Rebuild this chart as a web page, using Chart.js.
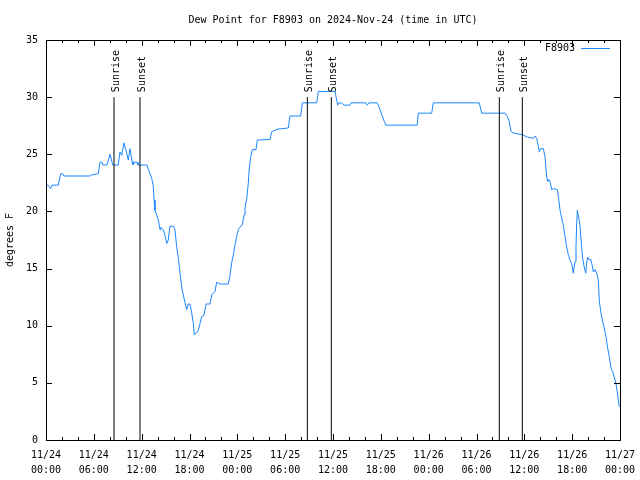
<!DOCTYPE html>
<html>
<head>
<meta charset="utf-8">
<script src="https://cdn.jsdelivr.net/npm/chart.js@4"></script>
<style>
html,body{margin:0;padding:0;background:#fff;}
#wrap{width:640px;height:480px;position:relative;}
</style>
</head>
<body>
<div id="wrap"><canvas id="c" width="640" height="480"></canvas></div>
<script>
// Hours since 2024-11-24 00:00 UTC
const hours = [0.0,0.25,0.59,0.75,1.54,1.84,2.07,2.26,5.52,5.73,6.56,6.77,7.02,7.15,7.65,8.03,8.37,9.07,9.28,9.5,9.78,10.12,10.32,10.54,10.79,10.91,11.16,11.42,11.54,12.67,12.83,13.26,13.46,13.55,13.67,13.89,14.09,14.3,14.39,14.71,14.93,15.14,15.34,15.55,15.97,16.18,16.39,16.6,16.81,17.02,17.22,17.44,17.65,17.85,18.06,18.28,18.48,18.6,18.9,19.1,19.32,19.53,19.82,20.07,20.57,20.79,21.2,21.41,21.83,22.87,23.08,23.29,23.5,23.71,23.92,24.12,24.42,24.62,24.84,24.96,25.18,25.38,25.5,25.68,25.88,26.34,26.51,28.1,28.31,29.01,30.39,30.61,31.95,32.15,33.96,34.16,36.25,36.46,36.59,36.75,37.09,37.38,38.13,38.26,40.14,40.3,40.52,41.56,41.9,42.31,42.61,46.57,46.7,48.38,48.58,54.35,54.65,57.58,57.87,58.12,58.29,58.45,59.04,59.8,60.37,61.13,61.34,61.55,61.75,61.88,62.05,62.38,62.59,62.81,62.93,63.1,63.22,63.43,63.64,64.14,64.26,64.48,64.69,64.89,65.1,65.31,65.52,65.73,65.94,66.14,66.36,66.48,66.57,66.65,66.77,66.98,67.19,67.32,67.49,67.7,67.83,67.95,68.12,68.33,68.46,68.66,68.87,69.08,69.28,69.41,69.62,69.83,70.03,70.25,70.46,70.66,70.87,71.08,71.28,71.49,71.66,71.79,71.91];
const dewPoint = [22.3,22.3,22.0,22.3,22.3,23.3,23.3,23.1,23.1,23.2,23.3,24.3,24.3,24.06,24.06,25.0,24.06,24.06,25.2,24.9,26.0,25.1,24.5,25.5,24.4,24.06,24.3,24.3,24.06,24.06,23.7,22.9,22.2,21.0,20.1,19.7,19.25,18.4,18.6,18.4,17.9,17.2,17.5,18.7,18.7,18.4,16.9,15.9,14.6,13.4,12.7,12.0,11.4,11.9,11.9,11.1,10.2,9.2,9.4,9.6,10.2,10.8,10.9,11.9,11.9,12.7,13.0,13.8,13.65,13.65,14.4,15.5,16.2,17.1,17.8,18.4,18.7,18.8,19.7,20.3,21.1,22.5,23.8,24.8,25.4,25.4,26.25,26.3,26.97,27.2,27.3,28.35,28.35,29.5,29.5,30.5,30.5,29.75,29.3,29.5,29.5,29.3,29.3,29.5,29.5,29.3,29.5,29.5,28.9,28.1,27.55,27.55,28.6,28.6,29.5,29.5,28.6,28.6,28.3,27.85,27.1,26.9,26.8,26.7,26.5,26.4,26.6,26.4,25.7,25.2,25.5,25.5,24.8,23.0,22.6,22.8,22.6,21.9,22.0,21.9,21.4,20.1,19.4,18.8,17.8,16.9,16.2,15.75,15.45,14.6,15.6,16.9,19.0,20.1,19.7,18.8,16.9,15.9,15.2,14.6,15.6,16.0,15.75,15.8,15.45,14.7,14.9,14.6,14.0,12.1,11.1,10.35,9.8,9.0,8.0,7.3,6.3,6.0,5.5,4.95,4.2,3.5,2.9];
const sunEventHours = [8.53, 11.79, 32.78, 35.79, 56.86, 59.75];
const sunEventNames = ["Sunrise", "Sunset", "Sunrise", "Sunset", "Sunrise", "Sunset"];
const sunLineTop = 30;
const xTickDates = ["11/24","11/24","11/24","11/24","11/25","11/25","11/25","11/25","11/26","11/26","11/26","11/26","11/27"];
const xTickTimes = ["00:00","06:00","12:00","18:00","00:00","06:00","12:00","18:00","00:00","06:00","12:00","18:00","00:00"];
const yTicks = [0,5,10,15,20,25,30,35];
const seriesName = "F8903";
const titleText = "Dew Point for F8903 on 2024-Nov-24 (time in UTC)";
const yTitle = "degrees F";

const FONT = "DejaVu Sans Mono";
const LINE_COLOR = "#1a86ff";

const datasets = [{
  label: seriesName,
  data: hours.map((h, i) => ({x: h, y: dewPoint[i]})),
  borderColor: LINE_COLOR,
  borderWidth: 1,
  pointRadius: 0,
  fill: false,
  tension: 0,
  order: 2
}];
sunEventHours.forEach((h, i) => {
  datasets.push({
    label: sunEventNames[i],
    data: [{x: h, y: 0}, {x: h, y: sunLineTop}],
    borderColor: "#000",
    borderWidth: 1,
    pointRadius: 0,
    fill: false,
    order: 1
  });
});

const decor = {
  id: 'decor',
  afterDraw(chart) {
    const ctx = chart.ctx;
    const a = chart.chartArea;
    const xs = chart.scales.x, ys = chart.scales.y;
    ctx.save();
    ctx.strokeStyle = "#000";
    ctx.lineWidth = 1;
    ctx.strokeRect(Math.round(a.left) + 0.5, Math.round(a.top) + 0.5, Math.round(a.right - a.left), Math.round(a.bottom - a.top));
    ctx.beginPath();
    for (let h = 0; h <= 72; h += 2) {
      const px = Math.round(xs.getPixelForValue(h)) + 0.5;
      const len = (h % 6 === 0) ? 6 : 3;
      ctx.moveTo(px, a.bottom); ctx.lineTo(px, a.bottom - len);
      ctx.moveTo(px, a.top); ctx.lineTo(px, a.top + len);
    }
    yTicks.forEach(v => {
      const py = Math.round(ys.getPixelForValue(v)) + 0.5;
      ctx.moveTo(a.left, py); ctx.lineTo(a.left + 6, py);
      ctx.moveTo(a.right, py); ctx.lineTo(a.right - 6, py);
    });
    ctx.stroke();
    ctx.fillStyle = "#000";
    ctx.font = "10px '" + FONT + "'";
    sunEventHours.forEach((h, i) => {
      const px = xs.getPixelForValue(h);
      const py = ys.getPixelForValue(sunLineTop);
      ctx.save();
      ctx.translate(px + 2, py - 5);
      ctx.rotate(-Math.PI / 2);
      ctx.textAlign = "left";
      ctx.textBaseline = "middle";
      ctx.fillText(sunEventNames[i], 0, 0);
      ctx.restore();
    });
    ctx.textAlign = "center";
    ctx.textBaseline = "middle";
    ctx.fillText(titleText, (a.left + a.right) / 2, 20);
    ctx.save();
    ctx.translate(10, (a.top + a.bottom) / 2);
    ctx.rotate(-Math.PI / 2);
    ctx.fillText(yTitle, 0, 0);
    ctx.restore();
    ctx.textAlign = "right";
    ctx.fillText(seriesName, 575, 48);
    ctx.strokeStyle = LINE_COLOR;
    ctx.beginPath();
    ctx.moveTo(581, 48.5); ctx.lineTo(610, 48.5);
    ctx.stroke();
    ctx.restore();
  }
};

new Chart(document.getElementById('c'), {
  type: 'line',
  data: {datasets},
  options: {
    responsive: false,
    animation: false,
    devicePixelRatio: 1,
    layout: {padding: {left: 0, right: 20, top: 40, bottom: 0}},
    plugins: {legend: {display: false}, title: {display: false}, tooltip: {enabled: false}},
    scales: {
      x: {
        type: 'linear',
        min: 0, max: 72,
        afterFit(s) { s.height = 40; s.paddingLeft = 0; s.paddingRight = 0; },
        afterBuildTicks(s) { s.ticks = xTickDates.map((d, i) => ({value: i * 6})); },
        grid: {display: false, drawTicks: false},
        border: {display: false},
        ticks: {
          padding: 8,
          autoSkip: false,
          maxRotation: 0,
          color: "#000",
          font: {family: FONT, size: 10, lineHeight: 1.5},
          callback: (v, i) => [xTickDates[i], xTickTimes[i]]
        }
      },
      y: {
        min: 0, max: 35,
        afterFit(s) { s.width = 46; s.paddingTop = 0; s.paddingBottom = 0; },
        afterBuildTicks(s) { s.ticks = yTicks.map(v => ({value: v})); },
        grid: {display: false, drawTicks: false},
        border: {display: false},
        ticks: {
          padding: 8,
          color: "#000",
          font: {family: FONT, size: 10},
          callback: v => String(v)
        }
      }
    }
  },
  plugins: [decor]
});
</script>
</body>
</html>
